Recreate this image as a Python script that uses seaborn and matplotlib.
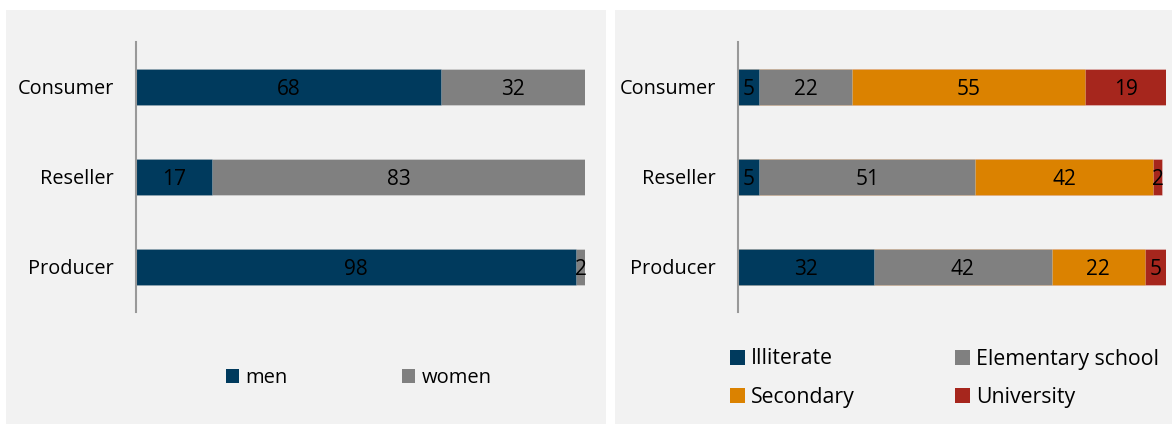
import matplotlib
matplotlib.use("Agg")
import matplotlib.pyplot as plt
import seaborn as sns
import pandas as pd
import numpy as np
from matplotlib.patches import Rectangle, Patch

# Data
categories = ["Consumer", "Reseller", "Producer"]

gender_labels = ["men", "women"]
men = [68, 17, 98]
women = [32, 83, 2]

edu_labels = ["Illiterate", "Elementary school", "Secondary", "University"]
illiterate = [5, 5, 32]
elementary = [22, 51, 42]
secondary = [55, 42, 22]
university = [19, 2, 5]

gender_colors = ["#003A5D", "#808080"]
edu_colors = ["#003A5D", "#808080", "#DB8200", "#A6261D"]

sns.set_theme(style="white")
plt.rcParams["font.family"] = ["Open Sans", "DejaVu Sans"]
plt.rcParams["text.color"] = "black"
plt.rcParams["ytick.color"] = "black"
plt.rcParams["ytick.labelcolor"] = "black"

W, H = 1172, 424
fig = plt.figure(figsize=(W / 100, H / 100), dpi=100)
fig.patch.set_facecolor("white")

# Panel backgrounds
for x0, x1 in [(6, 606), (615, 1172)]:
    fig.patches.append(Rectangle((x0 / W, 0), (x1 - x0) / W, (H - 10) / H,
                                 transform=fig.transFigure, facecolor="#F2F2F2",
                                 edgecolor="none", zorder=-5))


def stacked(ax, series, names, colors, xmax):
    df = pd.DataFrame(dict(zip(names, series)), index=categories)
    cum = df.cumsum(axis=1)
    # draw cumulative totals from the outermost segment inward
    for name, color in reversed(list(zip(names, colors))):
        d = pd.DataFrame({"cat": categories, "val": cum[name].values})
        sns.barplot(data=d, y="cat", x="val", color=color, width=0.4,
                    orient="h", ax=ax, saturation=1, zorder=2,
                    linewidth=0.6, edgecolor=(1, 1, 1, 0.3))
    for i, cat in enumerate(categories):
        for name in names:
            v = df.loc[cat, name]
            c = cum.loc[cat, name] - v / 2
            ax.text(c, i, f"{v}", ha="center", va="center_baseline",
                    fontsize=15, color="black", zorder=3)
    ax.set_xlim(0, xmax)
    ax.set_ylim(2.5, -0.5)
    ax.set_facecolor("none")
    for s in ["top", "right", "bottom"]:
        ax.spines[s].set_visible(False)
    ax.spines["left"].set_color("#999999")
    ax.spines["left"].set_linewidth(1.5)
    ax.set_xticks([])
    ax.set_xlabel("")
    ax.set_ylabel("")
    ax.tick_params(axis="y", length=0, pad=16, labelsize=14.3)


ax1 = fig.add_axes([136 / W, (H - 312) / H, (585 - 136) / W, 270 / H])
stacked(ax1, [men, women], gender_labels, gender_colors, 100)

ax2 = fig.add_axes([738 / W, (H - 312) / H, (1166 - 738) / W, 270 / H])
stacked(ax2, [illiterate, elementary, secondary, university], edu_labels,
        edu_colors, 101)

h1 = [Patch(facecolor=c, edgecolor="none") for c in gender_colors]
fig.legend(h1, gender_labels, loc="center left",
           bbox_to_anchor=(226 / W, (H - 378) / H), ncol=2, frameon=False,
           fontsize=14.5, handlelength=0.65, handleheight=0.65,
           handletextpad=0.3, columnspacing=5.7, borderaxespad=0, borderpad=0,
           labelcolor="black")

# row-wise order for a two-column legend
order = [0, 2, 1, 3]
h2 = [Patch(facecolor=edu_colors[i], edgecolor="none") for i in order]
fig.legend(h2, [edu_labels[i] for i in order], loc="center left",
           bbox_to_anchor=(730 / W, (H - 378) / H), ncol=2, frameon=False,
           fontsize=15.3, handlelength=0.7, handleheight=0.7,
           handletextpad=0.3, columnspacing=4.7, labelspacing=0.8,
           borderaxespad=0, borderpad=0, labelcolor="black")

fig.savefig("out.png", dpi=100, facecolor="white")
